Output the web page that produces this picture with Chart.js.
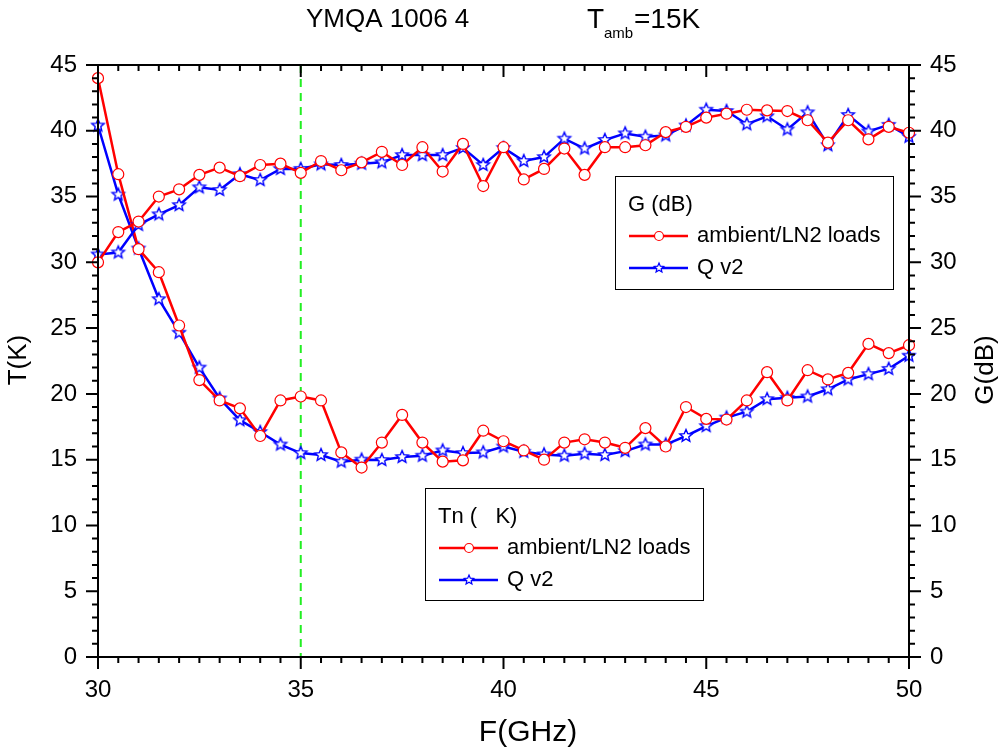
<!DOCTYPE html>
<html>
<head>
<meta charset="utf-8">
<script src="https://cdn.jsdelivr.net/npm/chart.js@4.4.1/dist/chart.umd.min.js"></script>
<style>
  body { margin: 0; background: #fff; }
  canvas { display: block; }
</style>
</head>
<body>
<canvas id="chart" width="1000" height="749"></canvas>
<script>
// frequency points (GHz)
const freq = [30, 30.5, 31, 31.5, 32, 32.5, 33, 33.5, 34, 34.5, 35, 35.5, 36, 36.5, 37, 37.5, 38, 38.5, 39, 39.5,
    40, 40.5, 41, 41.5, 42, 42.5, 43, 43.5, 44, 44.5, 45, 45.5, 46, 46.5, 47, 47.5, 48, 48.5, 49, 49.5, 50];

// noise temperature Tn (K)
const tnAmbient = [44.0, 36.7, 31.0, 29.25, 25.2, 21.05, 19.5, 18.9, 16.8, 19.5, 19.8, 19.5, 15.55, 14.4, 16.3, 18.4, 16.3, 14.85, 14.95, 17.2,
    16.4, 15.7, 15.0, 16.3, 16.55, 16.3, 15.9, 17.4, 16.0, 19.0, 18.1, 18.05, 19.5, 21.65, 19.5, 21.8, 21.1, 21.6, 23.8, 23.1, 23.7];
const tnQ = [40.4, 35.15, 31.05, 27.2, 24.65, 22.0, 19.65, 18.0, 17.1, 16.15, 15.5, 15.35, 14.85, 15.0, 14.97, 15.2, 15.3, 15.7, 15.5, 15.55,
    16.0, 15.6, 15.4, 15.3, 15.45, 15.35, 15.65, 16.15, 16.15, 16.8, 17.55, 18.2, 18.65, 19.6, 19.7, 19.8, 20.35, 21.1, 21.5, 21.9, 22.9];

// gain G (dB)
const gAmbient = [30.0, 32.3, 33.1, 35.0, 35.55, 36.65, 37.2, 36.55, 37.4, 37.5, 36.8, 37.7, 37.0, 37.6, 38.4, 37.4, 38.75, 36.9, 39.0, 35.8,
    38.75, 36.3, 37.1, 38.65, 36.65, 38.75, 38.75, 38.9, 39.9, 40.3, 41.0, 41.3, 41.6, 41.55, 41.5, 40.8, 39.1, 40.8, 39.35, 40.3, 39.85];
const gQ = [30.6, 30.75, 32.85, 33.65, 34.35, 35.7, 35.5, 36.7, 36.25, 37.1, 37.1, 37.45, 37.4, 37.5, 37.6, 38.15, 38.15, 38.15, 38.7, 37.4,
    38.7, 37.7, 38.0, 39.4, 38.65, 39.3, 39.8, 39.55, 39.65, 40.4, 41.6, 41.5, 40.5, 41.1, 40.1, 41.4, 38.9, 41.2, 39.95, 40.45, 39.55];

const markerLine = 35; // green dashed line (GHz)

const FONT = "'Liberation Sans', Arial, sans-serif";
const RED = '#ff0000';
const BLUE = '#0000ff';

function starPath(g, cx, cy, r) {
    g.beginPath();
    for (let i = 0; i < 10; i++) {
        const rr = i % 2 === 0 ? r : r * 0.45;
        const a = -Math.PI / 2 + i * Math.PI / 5;
        const px = cx + rr * Math.cos(a), py = cy + rr * Math.sin(a);
        if (i === 0) g.moveTo(px, py); else g.lineTo(px, py);
    }
    g.closePath();
}

function drawStar(g, cx, cy, r, lw) {
    starPath(g, cx, cy, r);
    g.fillStyle = '#fff';
    g.fill();
    g.strokeStyle = BLUE;
    g.lineWidth = lw;
    g.stroke();
}

function makeStar(r, lw) {
    const c = document.createElement('canvas');
    const s = Math.ceil(2 * r + 2 * lw + 2);
    c.width = c.height = s;
    drawStar(c.getContext('2d'), s / 2, s / 2, r, lw);
    return c;
}

const starImg = makeStar(6.5, 1.4);

function pts(ys) {
    return freq.map((f, i) => ({ x: f, y: ys[i] }));
}

function circleSet(ys, axis) {
    return {
        data: pts(ys), yAxisID: axis,
        borderColor: RED, borderWidth: 2.5,
        pointStyle: 'circle', pointRadius: 5.5,
        pointBackgroundColor: '#fff', pointBorderColor: RED, pointBorderWidth: 1.2,
        clip: false
    };
}

function starSet(ys, axis) {
    return {
        data: pts(ys), yAxisID: axis,
        borderColor: BLUE, borderWidth: 2.5,
        pointStyle: starImg, pointRadius: 6,
        clip: false
    };
}

// frame, ticks, titles, legends
const decor = {
    id: 'decor',
    beforeDatasetsDraw(chart) {
        const { ctx, chartArea: a, scales } = chart;
        const x = scales.x.getPixelForValue(markerLine);
        ctx.save();
        ctx.strokeStyle = '#22ee22';
        ctx.lineWidth = 2;
        ctx.setLineDash([8, 6]);
        ctx.beginPath();
        ctx.moveTo(x, a.top);
        ctx.lineTo(x, a.bottom);
        ctx.stroke();
        ctx.restore();
    },
    afterDraw(chart) {
        const { ctx, chartArea: a, scales } = chart;
        ctx.save();
        ctx.strokeStyle = '#000';
        ctx.lineWidth = 2;
        ctx.strokeRect(a.left, a.top, a.right - a.left, a.bottom - a.top);

        const major = 12, minor = 6;
        ctx.beginPath();
        for (let v = 30; v <= 50.001; v += 0.5) {
            const px = scales.x.getPixelForValue(v);
            const len = Math.abs(v % 5) < 0.01 ? major : minor;
            ctx.moveTo(px, a.bottom); ctx.lineTo(px, a.bottom + len);
            ctx.moveTo(px, a.top); ctx.lineTo(px, a.top + len);
        }
        for (let v = 0; v <= 45; v += 1) {
            const py = scales.y.getPixelForValue(v);
            const len = v % 5 === 0 ? major : minor;
            ctx.moveTo(a.left, py); ctx.lineTo(a.left - len, py);
            ctx.moveTo(a.right, py); ctx.lineTo(a.right + len, py);
        }
        ctx.stroke();

        // titles
        ctx.fillStyle = '#000';
        ctx.textBaseline = 'middle';
        ctx.textAlign = 'center';
        ctx.font = '30px ' + FONT;
        ctx.fillText('F(GHz)', 528, 733);
        ctx.font = '26px ' + FONT;
        ctx.save();
        ctx.translate(19, 360);
        ctx.rotate(-Math.PI / 2);
        ctx.fillText('T(K)', 0, 0);
        ctx.restore();
        ctx.save();
        ctx.translate(986, 370);
        ctx.rotate(-Math.PI / 2);
        ctx.fillText('G(dB)', 0, 0);
        ctx.restore();

        ctx.textAlign = 'left';
        ctx.font = '26px ' + FONT;
        ctx.fillText('YMQA 1006 4', 306, 20);
        ctx.font = '28px ' + FONT;
        ctx.fillText('T', 587, 20);
        ctx.font = '15px ' + FONT;
        ctx.fillText('amb', 604, 34);
        ctx.font = '28px ' + FONT;
        ctx.fillText('=15K', 634, 20);

        // legends
        function legend(x, y, w, h, title, rows) {
            ctx.lineWidth = 1;
            ctx.strokeStyle = '#000';
            ctx.strokeRect(x + 0.5, y + 0.5, w, h);
            ctx.font = '22px ' + FONT;
            ctx.fillStyle = '#000';
            ctx.fillText(title, x + 13, y + 29);
            rows.forEach((r, i) => {
                const ly = y + 60 + i * 32;
                ctx.strokeStyle = r.color;
                ctx.lineWidth = 2.5;
                ctx.beginPath();
                ctx.moveTo(x + 14, ly); ctx.lineTo(x + 73, ly);
                ctx.stroke();
                if (r.star) {
                    drawStar(ctx, x + 44, ly, 5, 1.2);
                } else {
                    ctx.beginPath();
                    ctx.arc(x + 44, ly, 4.5, 0, Math.PI * 2);
                    ctx.fillStyle = '#fff';
                    ctx.fill();
                    ctx.lineWidth = 1.2;
                    ctx.stroke();
                }
                ctx.fillStyle = '#000';
                ctx.fillText(r.label, x + 82, ly);
            });
        }
        legend(615, 176, 278, 113, 'G (dB)', [
            { color: RED, label: 'ambient/LN2 loads' },
            { color: BLUE, label: 'Q v2', star: true }
        ]);
        legend(425, 488, 278, 112, 'Tn (   K)', [
            { color: RED, label: 'ambient/LN2 loads' },
            { color: BLUE, label: 'Q v2', star: true }
        ]);
        ctx.restore();
    }
};

const tickFont = { family: FONT, size: 24 };

new Chart(document.getElementById('chart'), {
    type: 'line',
    data: {
        datasets: [
            circleSet(gAmbient, 'y2'),
            starSet(gQ, 'y2'),
            circleSet(tnAmbient, 'y'),
            starSet(tnQ, 'y')
        ]
    },
    options: {
        responsive: false,
        animation: false,
        devicePixelRatio: 1,
        layout: { padding: { top: 65, right: 0, left: 0, bottom: 0 } },
        plugins: { legend: { display: false }, tooltip: { enabled: false } },
        scales: {
            x: {
                type: 'linear', min: 30, max: 50,
                ticks: { stepSize: 5, font: tickFont, color: '#000', padding: 19, maxRotation: 0 },
                grid: { display: false, drawTicks: false },
                border: { display: false },
                afterFit(s) { s.height = 92; }
            },
            y: {
                position: 'left', min: 0, max: 45,
                ticks: { stepSize: 5, font: tickFont, color: '#000', padding: 21 },
                grid: { display: false, drawTicks: false },
                border: { display: false },
                afterFit(s) { s.width = 98; }
            },
            y2: {
                position: 'right', min: 0, max: 45,
                ticks: { stepSize: 5, font: tickFont, color: '#000', padding: 21 },
                grid: { display: false, drawTicks: false },
                border: { display: false },
                afterFit(s) { s.width = 91; }
            }
        }
    },
    plugins: [decor]
});
</script>
</body>
</html>
